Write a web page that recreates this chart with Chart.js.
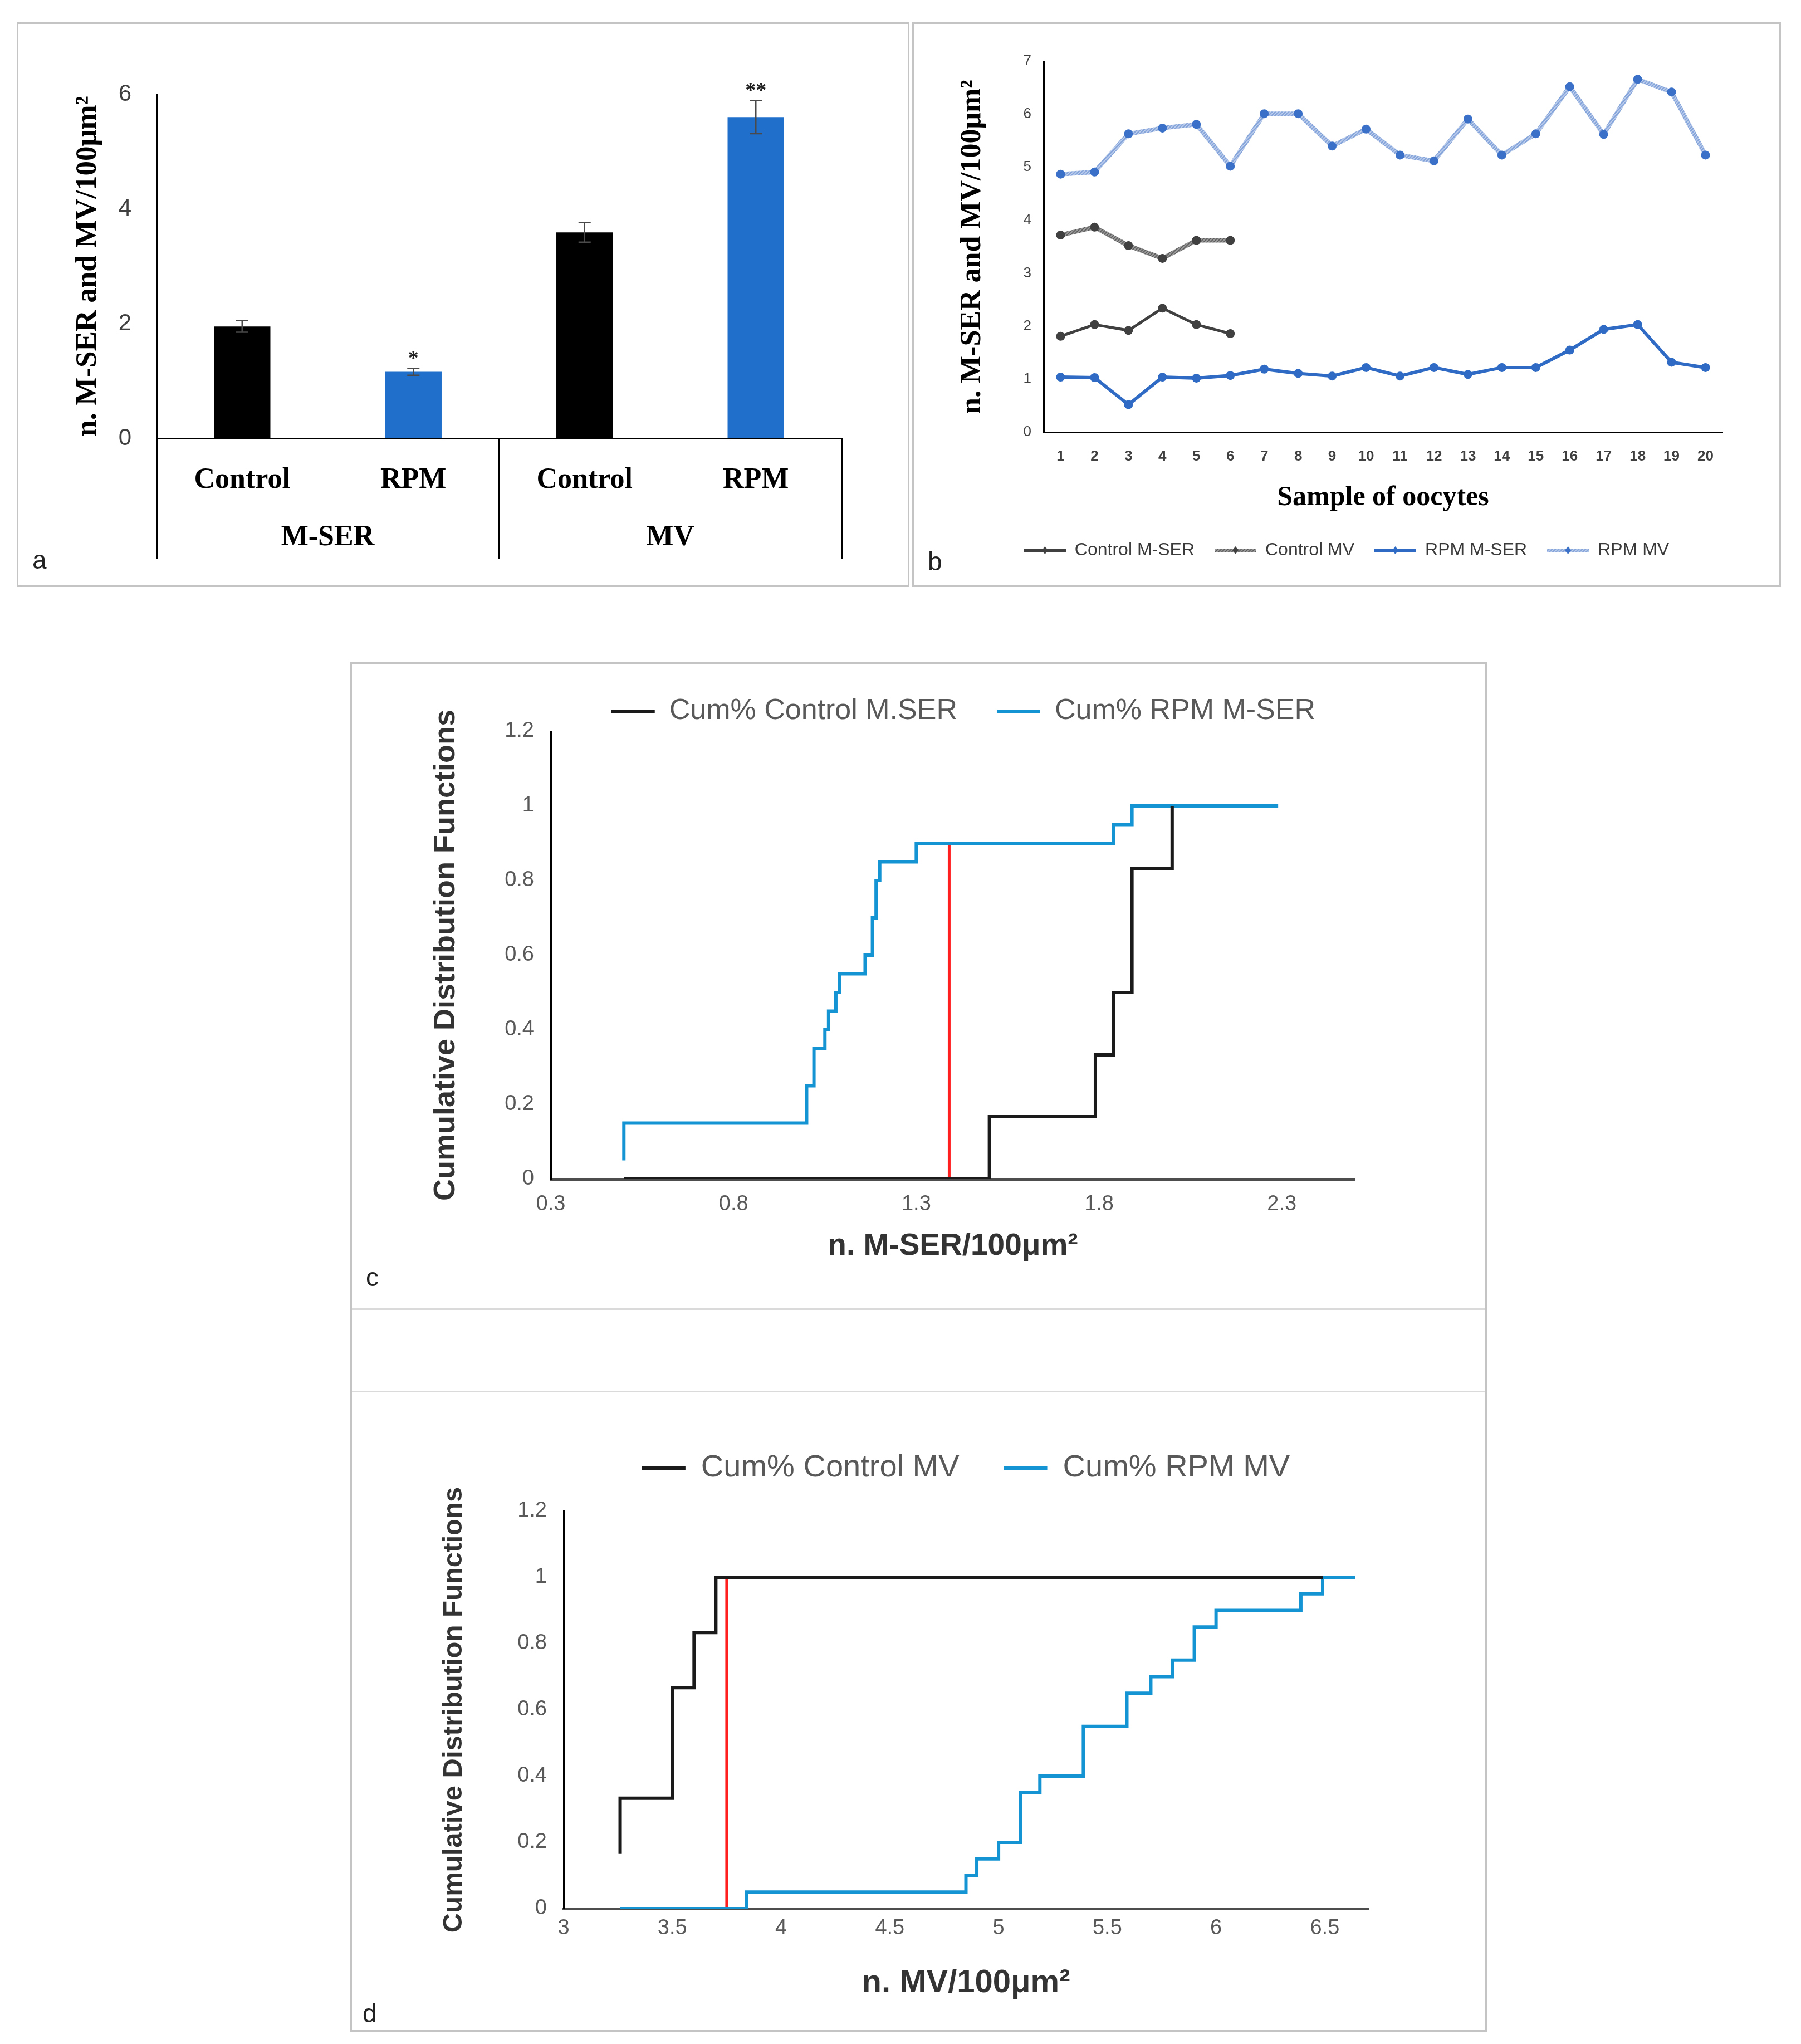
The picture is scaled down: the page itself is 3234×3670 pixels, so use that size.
<!DOCTYPE html>
<html>
<head>
<meta charset="utf-8">
<script src="https://cdn.jsdelivr.net/npm/chart.js@4.4.0/dist/chart.umd.min.js"></script>
<style>
  html, body { margin: 0; padding: 0; background: #fff; }
  #page { position: relative; width: 3234px; height: 3670px; overflow: hidden; font-family: "Liberation Sans", Arial, sans-serif; }
  .box { position: absolute; box-sizing: border-box; border: 3px solid #c4c4c4; }
  .sep { position: absolute; height: 3px; background: #dadada; }
  canvas { position: absolute; }
  .tag { position: absolute; font-size: 46px; line-height: 1; color: #222; }
</style>
</head>
<body>
<div id="page">
  <div class="box" style="left:30px;top:40px;width:1603px;height:1014px"></div>
  <div class="box" style="left:1638px;top:40px;width:1560px;height:1014px"></div>
  <div class="box" style="left:628px;top:1188px;width:2043px;height:2460px;border-width:4px"></div>
  <div class="sep" style="left:632px;top:2349px;width:2035px"></div>
  <div class="sep" style="left:632px;top:2497px;width:2035px"></div>

  <canvas id="chartA" width="1603" height="1014" style="left:30px;top:40px"></canvas>
  <canvas id="chartB" width="1560" height="1014" style="left:1638px;top:40px"></canvas>
  <canvas id="chartC" width="2043" height="1170" style="left:628px;top:1180px"></canvas>
  <canvas id="chartD" width="2043" height="1120" style="left:628px;top:2528px"></canvas>

  <div class="tag" style="left:58px;top:982px">a</div>
  <div class="tag" style="left:1666px;top:985px">b</div>
  <div class="tag" style="left:657px;top:2270px">c</div>
  <div class="tag" style="left:651px;top:3592px">d</div>
</div>

<script>
// ---- panel a: mean counts per group ----
const barCats = ['Control', 'RPM', 'Control', 'RPM'];
const barGroups = ['M-SER', 'MV'];
const barMeans = [1.95, 1.16, 3.59, 5.6];
const barErrors = [0.1, 0.06, 0.17, 0.29];
const barMarks = ['', '*', '', '**'];
const aTicksY = [0, 2, 4, 6];

// ---- panel b: per-oocyte values ----
const samples = ['1', '2', '3', '4', '5', '6', '7', '8', '9', '10',
  '11', '12', '13', '14', '15', '16', '17', '18', '19', '20'];
const ctrlMser = [1.81, 2.03, 1.92, 2.34, 2.03, 1.86];
const ctrlMv = [3.72, 3.87, 3.52, 3.28, 3.62, 3.62];
const rpmMser = [1.04, 1.03, 0.52, 1.04, 1.02, 1.07, 1.19, 1.11, 1.06, 1.22,
  1.06, 1.22, 1.09, 1.22, 1.22, 1.55, 1.94, 2.03, 1.32, 1.22];
const rpmMv = [4.87, 4.91, 5.63, 5.74, 5.81, 5.02, 6.01, 6.01, 5.40, 5.72,
  5.23, 5.12, 5.91, 5.23, 5.63, 6.52, 5.62, 6.66, 6.42, 5.23];
const bTicksY = [0, 1, 2, 3, 4, 5, 6, 7];

// ---- panel c: CDF of M-SER ----
const cdfCtrlMserX = [0.5, 1.5, 1.79, 1.84, 1.89, 2.0];
const cdfCtrlMserY = [0, 0.167, 0.333, 0.5, 0.833, 1];
const cdfRpmMserX = [0.5, 0.5, 1.0, 1.02, 1.05, 1.06, 1.08, 1.09, 1.16, 1.18, 1.19, 1.2, 1.3, 1.84, 1.89, 2.29];
const cdfRpmMserY = [0.05, 0.15, 0.25, 0.35, 0.4, 0.45, 0.5, 0.55, 0.6, 0.7, 0.8, 0.85, 0.9, 0.95, 1, 1];
const ksMserX = 1.39;
const ksMserTop = 0.9;
const cTicksX = [0.3, 0.8, 1.3, 1.8, 2.3];

// ---- panel d: CDF of MV ----
const cdfCtrlMvX = [3.26, 3.26, 3.5, 3.6, 3.7, 6.49];
const cdfCtrlMvY = [0.167, 0.333, 0.667, 0.833, 1, 1];
const cdfRpmMvX = [3.26, 3.84, 4.85, 4.9, 5.0, 5.1, 5.19, 5.39, 5.59, 5.7, 5.8, 5.9, 6.0, 6.39, 6.49, 6.64];
const cdfRpmMvY = [0, 0.05, 0.1, 0.15, 0.2, 0.35, 0.4, 0.55, 0.65, 0.7, 0.75, 0.85, 0.9, 0.95, 1, 1];
const ksMvX = 3.75;
const ksMvTop = 1;
const dTicksX = [3, 3.5, 4, 4.5, 5, 5.5, 6, 6.5];

const cdfTicksY = [0, 0.2, 0.4, 0.6, 0.8, 1, 1.2];

Chart.defaults.font.family = '"Liberation Sans", Arial, sans-serif';

const pts = (xs, ys) => xs.map((x, i) => ({ x, y: ys[i] }));
const fixTicks = vals => s => { s.ticks = vals.map(v => ({ value: v })); };
const serifBold = size => ({ family: '"Liberation Serif", "Times New Roman", serif', size, weight: 'bold' });
const noGrid = { display: false, drawTicks: false };

// striped stroke like the original hatched series
function hatch(ctx, base, stripe) {
  const t = document.createElement('canvas');
  t.width = t.height = 6;
  const g = t.getContext('2d');
  g.fillStyle = base;
  g.fillRect(0, 0, 6, 6);
  g.strokeStyle = stripe;
  g.lineWidth = 1.6;
  g.beginPath();
  g.moveTo(0, 6); g.lineTo(6, 0);
  g.moveTo(-3, 3); g.lineTo(3, -3);
  g.moveTo(3, 9); g.lineTo(9, 3);
  g.stroke();
  return ctx.createPattern(t, 'repeat');
}

function legendIcon(line, dot, striped) {
  const c = document.createElement('canvas');
  c.width = 75; c.height = 16;
  const g = c.getContext('2d');
  g.fillStyle = striped ? hatch(g, line, striped) : line;
  g.fillRect(0, 5, 75, 6);
  g.fillStyle = dot;
  g.beginPath();
  g.moveTo(37.5, 1); g.lineTo(43, 8); g.lineTo(37.5, 15); g.lineTo(32, 8);
  g.closePath();
  g.fill();
  return c;
}

// ---------- a ----------
const errorBars = {
  id: 'errorBars',
  afterDatasetsDraw(chart) {
    const { ctx } = chart;
    const y = chart.scales.y;
    chart.getDatasetMeta(0).data.forEach((bar, i) => {
      const hi = y.getPixelForValue(barMeans[i] + barErrors[i]);
      const lo = y.getPixelForValue(barMeans[i] - barErrors[i]);
      ctx.save();
      ctx.strokeStyle = '#4a4a4a';
      ctx.lineWidth = 2.5;
      ctx.beginPath();
      ctx.moveTo(bar.x, hi); ctx.lineTo(bar.x, lo);
      ctx.moveTo(bar.x - 11, hi); ctx.lineTo(bar.x + 11, hi);
      ctx.moveTo(bar.x - 11, lo); ctx.lineTo(bar.x + 11, lo);
      ctx.stroke();
      if (barMarks[i]) {
        ctx.fillStyle = '#222';
        ctx.font = 'bold 38px "Liberation Serif", serif';
        ctx.textAlign = 'center';
        ctx.textBaseline = 'alphabetic';
        ctx.fillText(barMarks[i], bar.x, y.getPixelForValue(barMeans[i] + barErrors[i] + 0.06));
      }
      ctx.restore();
    });
  }
};

new Chart(document.getElementById('chartA'), {
  type: 'bar',
  data: {
    labels: barCats,
    datasets: [{
      data: barMeans,
      backgroundColor: ['#000000', '#1f6fcb', '#000000', '#1f6fcb'],
      barPercentage: 0.33,
      categoryPercentage: 1
    }]
  },
  options: {
    responsive: false,
    animation: false,
    devicePixelRatio: 1,
    layout: { padding: { top: 129, right: 122, bottom: 57, left: 0 } },
    plugins: { legend: { display: false }, tooltip: { enabled: false } },
    scales: {
      x: {
        weight: 0,
        grid: {
          offset: true,
          drawOnChartArea: false,
          drawTicks: true,
          tickLength: 216,
          lineWidth: 3,
          color: c => (c.index === undefined || c.index % 2 === 0) ? '#000' : 'rgba(0,0,0,0)'
        },
        border: { color: '#000', width: 3 },
        ticks: { padding: -172, maxRotation: 0, color: '#000', font: serifBold(52) },
        afterFit: s => { s.height = 130; }
      },
      x2: {
        type: 'category',
        labels: barGroups,
        position: 'bottom',
        weight: 1,
        offset: true,
        grid: noGrid,
        border: { display: false },
        ticks: { padding: 17, maxRotation: 0, color: '#000', font: serifBold(52) },
        afterFit: s => { s.height = 80; }
      },
      y: {
        min: 0,
        max: 6,
        afterBuildTicks: fixTicks(aTicksY),
        grid: noGrid,
        border: { color: '#000', width: 3 },
        ticks: { padding: 45, color: '#404040', font: { size: 42 }, callback: v => String(v) },
        title: {
          display: true,
          text: 'n. M-SER and MV/100μm²',
          color: '#000',
          font: serifBold(53),
          padding: { top: 97, bottom: 0 }
        },
        afterFit: s => { s.width = 251; }
      }
    }
  },
  plugins: [errorBars]
});

// ---------- b ----------
const ctxB = document.getElementById('chartB').getContext('2d');
const grayHatch = hatch(ctxB, '#9a9a9a', '#5a5a5a');
const blueHatch = hatch(ctxB, '#86a5da', '#c3d3ef');
const bIcons = [
  legendIcon('#404040', '#404040'),
  legendIcon('#9a9a9a', '#404040', '#5a5a5a'),
  legendIcon('#2f6bc5', '#2f6bc5'),
  legendIcon('#86a5da', '#3a70c8', '#c3d3ef')
];

new Chart(ctxB, {
  type: 'line',
  data: {
    labels: samples,
    datasets: [
      { label: 'Control M-SER', data: ctrlMser, borderColor: '#404040', backgroundColor: '#404040',
        borderWidth: 5, pointRadius: 8, pointBorderWidth: 0, pointBackgroundColor: '#404040' },
      { label: 'Control MV', data: ctrlMv, borderColor: grayHatch, backgroundColor: '#9a9a9a',
        borderWidth: 8, pointRadius: 8, pointBorderWidth: 0, pointBackgroundColor: '#404040' },
      { label: 'RPM M-SER', data: rpmMser, borderColor: '#2f6bc5', backgroundColor: '#2f6bc5',
        borderWidth: 6, pointRadius: 8, pointBorderWidth: 0, pointBackgroundColor: '#2f6bc5' },
      { label: 'RPM MV', data: rpmMv, borderColor: blueHatch, backgroundColor: '#86a5da',
        borderWidth: 8, pointRadius: 8, pointBorderWidth: 0, pointBackgroundColor: '#3a70c8' }
    ]
  },
  options: {
    responsive: false,
    animation: false,
    devicePixelRatio: 1,
    layout: { padding: { top: 70, right: 0, bottom: 40, left: 0 } },
    plugins: {
      tooltip: { enabled: false },
      legend: {
        position: 'bottom',
        labels: {
          usePointStyle: true,
          pointStyleWidth: 75,
          boxHeight: 16,
          padding: 36,
          color: '#3a3a3a',
          font: { size: 32 },
          generateLabels: chart => Chart.defaults.plugins.legend.labels.generateLabels(chart)
            .map((l, i) => Object.assign(l, { pointStyle: bIcons[i] }))
        }
      }
    },
    scales: {
      x: {
        offset: true,
        grid: noGrid,
        border: { color: '#000', width: 3 },
        ticks: { padding: 28, maxRotation: 0, autoSkip: false, color: '#404040', font: { size: 26, weight: 'bold' } },
        title: {
          display: true,
          text: 'Sample of oocytes',
          color: '#000',
          font: serifBold(50),
          padding: { top: 0, bottom: 12 }
        },
        afterFit: s => { s.height = 160; }
      },
      y: {
        min: 0,
        max: 7,
        afterBuildTicks: fixTicks(bTicksY),
        grid: noGrid,
        border: { color: '#000', width: 3 },
        ticks: { padding: 22, color: '#404040', font: { size: 26 }, callback: v => String(v) },
        title: {
          display: true,
          text: 'n. M-SER and MV/100μm²',
          color: '#000',
          font: serifBold(52),
          padding: { top: 77, bottom: 0 }
        },
        afterFit: s => { s.width = 236; }
      },
      // empty right strip so the chart area ends where the original axis does
      pad: {
        type: 'linear',
        axis: 'y',
        position: 'right',
        grid: noGrid,
        border: { display: false },
        ticks: { display: false },
        afterFit: s => { s.width = 105; }
      }
    }
  }
});

// ---------- c & d ----------
function cdfChart(id, o) {
  return new Chart(document.getElementById(id), {
    type: 'line',
    data: {
      datasets: [
        { label: o.names[0], data: o.ctrl, borderColor: '#1a1a1a', backgroundColor: '#1a1a1a',
          borderWidth: 6, stepped: true, pointRadius: 0, fill: false },
        { label: o.names[1], data: o.rpm, borderColor: '#1594d4', backgroundColor: '#1594d4',
          borderWidth: 6, stepped: true, pointRadius: 0, fill: false },
        { label: 'KS', data: o.ks, borderColor: '#ff1f1f', backgroundColor: '#ff1f1f',
          borderWidth: 5, pointRadius: 0, fill: false }
      ]
    },
    options: {
      responsive: false,
      animation: false,
      devicePixelRatio: 1,
      layout: { padding: o.padding },
      plugins: {
        tooltip: { enabled: false },
        title: o.spacer
          ? { display: true, text: '', weight: 500, font: { size: 10 }, padding: { top: o.spacer - 12, bottom: 0 } }
          : { display: false },
        legend: {
          position: 'top',
          fullSize: false,
          align: o.legendAlign,
          labels: {
            boxWidth: 78,
            boxHeight: 6,
            padding: o.legendPad,
            color: '#595959',
            font: { size: o.legendSize },
            generateLabels: chart => Chart.defaults.plugins.legend.labels.generateLabels(chart)
              .filter(l => l.datasetIndex < 2)
              .map(l => Object.assign(l, { lineWidth: 0, fillStyle: l.strokeStyle }))
          }
        }
      },
      scales: {
        x: {
          type: 'linear',
          min: o.xMin,
          max: o.xMax,
          afterBuildTicks: fixTicks(o.xTicks),
          grid: noGrid,
          border: { color: '#4d4d4d', width: 5 },
          ticks: { padding: o.xTickPad, color: '#595959', font: { size: 38 }, callback: v => String(v) },
          title: {
            display: true,
            text: o.xTitle,
            color: '#333',
            font: { size: o.xTitleSize, weight: 'bold' },
            padding: { top: 0, bottom: o.xTitlePad }
          },
          afterFit: s => { s.height = o.xHeight; }
        },
        y: {
          min: 0,
          max: 1.2,
          afterBuildTicks: fixTicks(cdfTicksY),
          grid: noGrid,
          border: { color: '#000', width: 3 },
          ticks: { padding: 30, color: '#595959', font: { size: 38 }, callback: v => String(v) },
          title: {
            display: true,
            text: 'Cumulative Distribution Functions',
            color: '#333',
            font: { size: o.yTitleSize, weight: 'bold' },
            padding: { top: o.yTitlePad, bottom: 0 }
          },
          afterFit: s => { s.width = o.yWidth; }
        }
      }
    }
  });
}

cdfChart('chartC', {
  names: ['Cum% Control M.SER', 'Cum% RPM M-SER'],
  ctrl: pts(cdfCtrlMserX, cdfCtrlMserY),
  rpm: pts(cdfRpmMserX, cdfRpmMserY),
  ks: pts([ksMserX, ksMserX], [0, ksMserTop]),
  padding: { top: 0, right: 238, bottom: 73, left: 0 },
  legendAlign: 'end',
  legendPad: 71,
  legendSize: 52,
  xMin: 0.3, xMax: 2.5, xTicks: cTicksX,
  xTickPad: 23, xTitle: 'n. M-SER/100μm²', xTitleSize: 55, xTitlePad: 6, xHeight: 160,
  yTitleSize: 54, yTitlePad: 141, yWidth: 361
});

cdfChart('chartD', {
  names: ['Cum% Control MV', 'Cum% RPM MV'],
  ctrl: pts(cdfCtrlMvX, cdfCtrlMvY),
  rpm: pts(cdfRpmMvX, cdfRpmMvY),
  ks: pts([ksMvX, ksMvX], [0, ksMvTop]),
  padding: { top: 0, right: 214, bottom: 46, left: 0 },
  spacer: 39,
  legendAlign: 'center',
  legendPad: 80,
  legendSize: 56,
  xMin: 3, xMax: 6.7, xTicks: dTicksX,
  xTickPad: 13, xTitle: 'n. MV/100μm²', xTitleSize: 58, xTitlePad: 6, xHeight: 175,
  yTitleSize: 49, yTitlePad: 158, yWidth: 384
});
</script>
</body>
</html>
